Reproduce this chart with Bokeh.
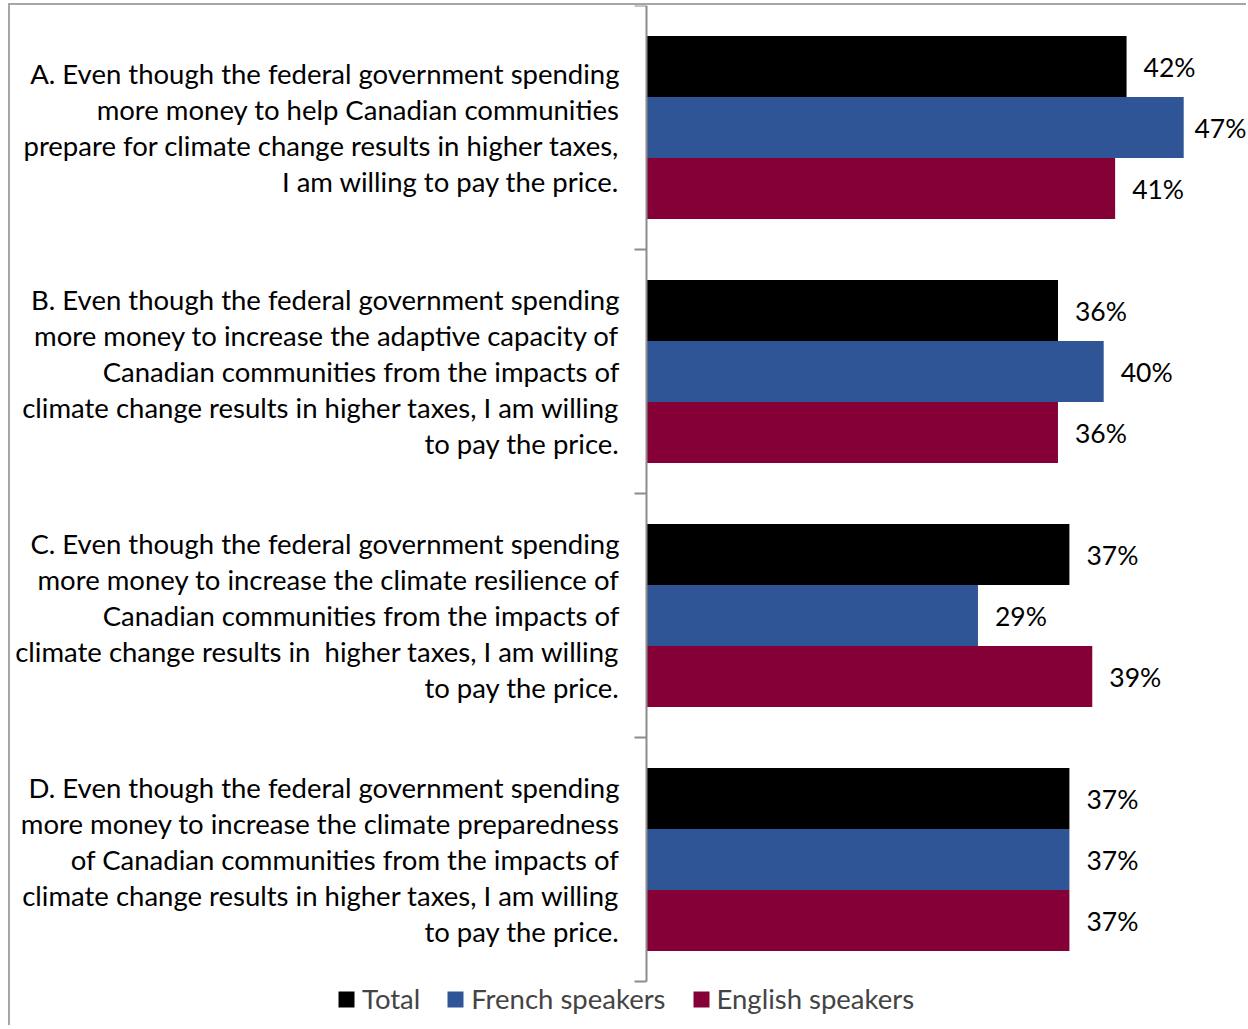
from bokeh.plotting import figure
from bokeh.models import Range1d, Legend, LegendItem, ColumnDataSource
from bokeh.core.properties import value
from bokeh.embed import file_html
from bokeh.resources import INLINE

categories = ["A", "B", "C", "D"]
category_lines = [
    ["A. Even though the federal government spending",
     "more money to help Canadian communities",
     "prepare for climate change results in higher taxes,",
     "I am willing to pay the price."],
    ["B. Even though the federal government spending",
     "more money to increase the adaptive capacity of",
     "Canadian communities from the impacts of",
     "climate change results in higher taxes, I am willing",
     "to pay the price."],
    ["C. Even though the federal government spending",
     "more money to increase the climate resilience of",
     "Canadian communities from the impacts of",
     "climate change results in\u00a0 higher taxes, I am willing",
     "to pay the price."],
    ["D. Even though the federal government spending",
     "more money to increase the climate preparedness",
     "of Canadian communities from the impacts of",
     "climate change results in higher taxes, I am willing",
     "to pay the price."],
]
series_names = ["Total", "French speakers", "English speakers"]
total = [42, 36, 37, 37]
french = [47, 40, 29, 37]
english = [41, 36, 39, 37]
series_values = [total, french, english]
colors = ["#000000", "#2F5597", "#860038"]

FONT = "Lato"
FS = "27.5px"
VFS = "26.5px"

W, H = 1238, 1022          # figure content size
AXIS_X = 636               # pixel position of the value axis
PX_PER_UNIT = 11.43        # pixels per percentage point
CAT_PX = 244               # pixels per category band
LABEL_W = 52               # approx. width of a value label
n_cat = len(categories)

x_range = Range1d(-AXIS_X / PX_PER_UNIT, (W - AXIS_X) / PX_PER_UNIT)
y_range = Range1d(n_cat - 0.5 + (H - n_cat * CAT_PX) / CAT_PX, -0.5)

p = figure(width=W, height=H, output_backend="svg", toolbar_location=None,
           x_range=x_range, y_range=y_range,
           min_border_left=0, min_border_right=0, min_border_top=0, min_border_bottom=0)
p.axis.visible = False
p.grid.visible = False
p.outline_line_color = None
p.background_fill_color = "white"
p.border_fill_color = "white"

# bars and value labels
bar_h = 0.25
renderers = []
for k, (name, vals, col) in enumerate(zip(series_names, series_values, colors)):
    ys = [i + (k - 1) * bar_h for i in range(n_cat)]
    offs = [min(17, W - (AXIS_X + v * PX_PER_UNIT) - LABEL_W - 2) for v in vals]
    src = ColumnDataSource(dict(y=ys, v=vals, lab=[f"{v}%" for v in vals], off=offs))
    r = p.hbar(y="y", right="v", left=0, height=bar_h, source=src, fill_color=col, line_color=None)
    renderers.append(r)
    p.text(x="v", y="y", text="lab", source=src, x_offset="off", text_align="left",
           text_baseline="middle", text_font=value(FONT), text_font_size=VFS, text_color="#000000")

# category axis: line and boundary ticks
bounds = [i - 0.5 for i in range(n_cat + 1)]
tick_len = 12 / PX_PER_UNIT
p.segment(x0=[0], y0=[bounds[0]], x1=[0], y1=[bounds[-1]], line_color="#8c8c8c", line_width=2)
p.segment(x0=[0] * len(bounds), y0=bounds, x1=[-tick_len] * len(bounds), y1=bounds,
          line_color="#8c8c8c", line_width=2)

# category labels (one text row per wrapped line)
line_step = 36
lx, ly, lt, loff = [], [], [], []
for i, lines in enumerate(category_lines):
    n = len(lines)
    for j, line in enumerate(lines):
        lx.append(0)
        ly.append(i)
        lt.append(line)
        loff.append((j - (n - 1) / 2) * line_step)
lsrc = ColumnDataSource(dict(x=lx, y=ly, t=lt, off=loff))
p.text(x="x", y="y", text="t", y_offset="off", x_offset=-27, source=lsrc,
       text_align="right", text_baseline="middle", text_font=value(FONT),
       text_font_size=FS, text_color="#000000")

legend = Legend(items=[LegendItem(label=n, renderers=[r]) for n, r in zip(series_names, renderers)],
                orientation="horizontal", location=(326, 12),
                glyph_width=20, glyph_height=20, label_text_font=FONT, label_text_font_size=FS,
                label_standoff=6, spacing=25, padding=0, margin=0,
                border_line_color=None, background_fill_alpha=0)
p.add_layout(legend, "center")

p.styles = {"margin-left": "8px", "margin-top": "3px",
            "border-left": "2px solid #a6a6a6", "border-top": "2px solid #a6a6a6"}

open("out.html", "w").write(file_html(p, INLINE))
